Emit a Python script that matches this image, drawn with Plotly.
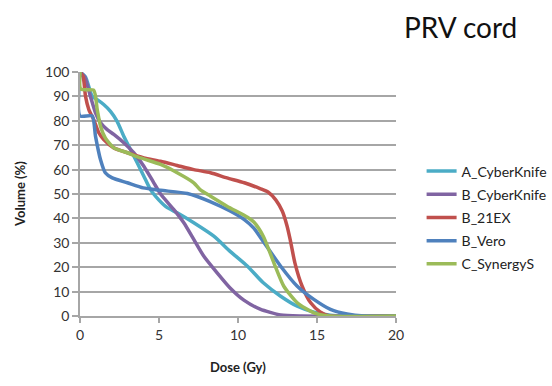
import plotly.graph_objects as go

names = ["A_CyberKnife", "B_CyberKnife", "B_21EX", "B_Vero", "C_SynergyS"]
colors = ["#4BACC6", "#8064A2", "#C0504D", "#4F81BD", "#9BBB59"]

a_ck_x = [0, 0.35, 0.77, 1.09, 1.5, 1.93, 2.35, 2.77, 3.2, 3.62, 4.04, 4.46, 5.0, 5.5, 6.15, 7.2, 8.47, 9.5, 10.6, 11.6, 12.7, 13.75, 14.8, 15.85, 17, 20]
a_ck_y = [100, 98, 90, 88.7, 86.7, 83.9, 79.8, 73.7, 68.2, 62.8, 57.3, 51.8, 47.5, 44.5, 42.3, 38.2, 32.7, 26.5, 20.4, 13.6, 8.1, 4, 1.6, 0.3, 0, 0]

b_ck_x = [0, 0.3, 0.66, 0.98, 1.3, 1.72, 2.14, 2.77, 3.4, 4.04, 4.67, 5.1, 5.94, 6.57, 7.2, 7.84, 8.68, 9.5, 10.37, 11.4, 12.7, 14, 20]
b_ck_y = [100, 98, 90, 83.3, 79.2, 76.4, 74.4, 71, 66.9, 61.4, 54.6, 50, 43.6, 38.2, 31.4, 24.5, 17.7, 11.5, 6.5, 2.8, 0.4, 0, 0]

b_21ex_x = [0, 0.2, 0.35, 0.56, 0.87, 1.19, 1.5, 2.14, 3, 4.04, 5.1, 6.15, 7.2, 8.26, 9.3, 10.4, 11.4, 11.9, 12.4, 12.8, 13.1, 13.3, 13.6, 14.06, 14.6, 15.2, 15.8, 20]
b_21ex_y = [100, 98, 90, 84.6, 80.5, 75.1, 72.3, 68.9, 66.9, 64.8, 63.4, 61.7, 60, 58.7, 56.6, 54.6, 52.2, 50.8, 47.5, 43, 37, 31.4, 21.8, 12.2, 5.4, 1.7, 0, 0]

b_vero_x = [0, 0, 0.77, 0.98, 1.3, 1.6, 2.04, 3.0, 4.0, 5.1, 6.8, 8.2, 9.5, 10.4, 11.0, 11.5, 12.7, 13.75, 14.8, 15.85, 16.9, 18, 20]
b_vero_y = [100, 82, 82, 73.7, 64, 58.7, 56.6, 54.6, 52.5, 51.5, 50.2, 47, 43, 39.5, 36, 31.5, 20.4, 12.2, 6.8, 2.7, 0.8, 0, 0]

c_syn_x = [0, 0.05, 0.87, 1.09, 1.3, 1.6, 2.14, 3, 3.83, 5.1, 6.15, 7.2, 7.6, 8.26, 9.3, 10.6, 11.0, 11.6, 12.27, 12.9, 13.75, 14.8, 15.8, 20]
c_syn_y = [100, 93, 92.5, 84.6, 77.8, 73, 68.9, 66.9, 64.8, 62.1, 58.7, 54.6, 51.8, 49.1, 45, 40.5, 38.5, 32.7, 21.8, 12.2, 5.4, 1.3, 0, 0]

series_x = [a_ck_x, b_ck_x, b_21ex_x, b_vero_x, c_syn_x]
series_y = [a_ck_y, b_ck_y, b_21ex_y, b_vero_y, c_syn_y]

x_ticks = [0, 5, 10, 15, 20]
y_ticks = [0, 10, 20, 30, 40, 50, 60, 70, 80, 90, 100]

FONT = "Lato"
fig = go.Figure()
for i, n in enumerate(names):
    fig.add_trace(go.Scatter(
        x=series_x[i], y=series_y[i], name=n, mode="lines",
        line=dict(color=colors[i], width=3.5, shape="spline", smoothing=0.6),
        legendgroup=n,
    ))

grid = "#A6A6A6"
fig.update_layout(
    width=552, height=386,
    margin=dict(l=79.5, r=156, t=72, b=69.5, autoexpand=False),
    paper_bgcolor="white", plot_bgcolor="white",
    font=dict(family=FONT, size=13, color="#333333"),
    showlegend=True,
    legend=dict(x=1.081, xanchor="left", y=0.658, yanchor="top",
                font=dict(family=FONT, size=14, color="#222222"),
                tracegroupgap=2, bgcolor="rgba(0,0,0,0)"),
    xaxis=dict(range=[0, 20], tickvals=x_ticks, ticktext=[str(v) for v in x_ticks],
               showgrid=False, zeroline=False, showline=True, linecolor=grid, linewidth=1.5,
               ticks="outside", ticklen=5, tickcolor=grid, tickwidth=1.5,
               tickfont=dict(family=FONT, size=14, color="#333333")),
    yaxis=dict(range=[0, 100], tickvals=y_ticks, ticktext=[str(v) for v in y_ticks],
               showgrid=True, gridcolor=grid, gridwidth=1.5, zeroline=False,
               showline=True, linecolor=grid, linewidth=1.5,
               ticks="outside", ticklen=6, tickcolor=grid, tickwidth=1.5,
               tickfont=dict(family=FONT, size=14, color="#333333")),
    annotations=[
        dict(text="PRV cord", xref="paper", yref="paper", x=1.02, y=1.186,
             xanchor="left", yanchor="middle", showarrow=False,
             font=dict(family=FONT, size=28, color="#111111")),
        dict(text="<b>Volume (%)</b>", xref="paper", yref="paper", x=-0.19, y=0.5,
             xanchor="center", yanchor="middle", textangle=-90, showarrow=False,
             font=dict(family=FONT, size=13, color="#222222")),
        dict(text="<b>Dose (Gy)</b>", xref="paper", yref="paper", x=0.5, y=-0.21,
             xanchor="center", yanchor="middle", showarrow=False,
             font=dict(family=FONT, size=13, color="#222222")),
    ],
)
fig.write_html("out.html")
